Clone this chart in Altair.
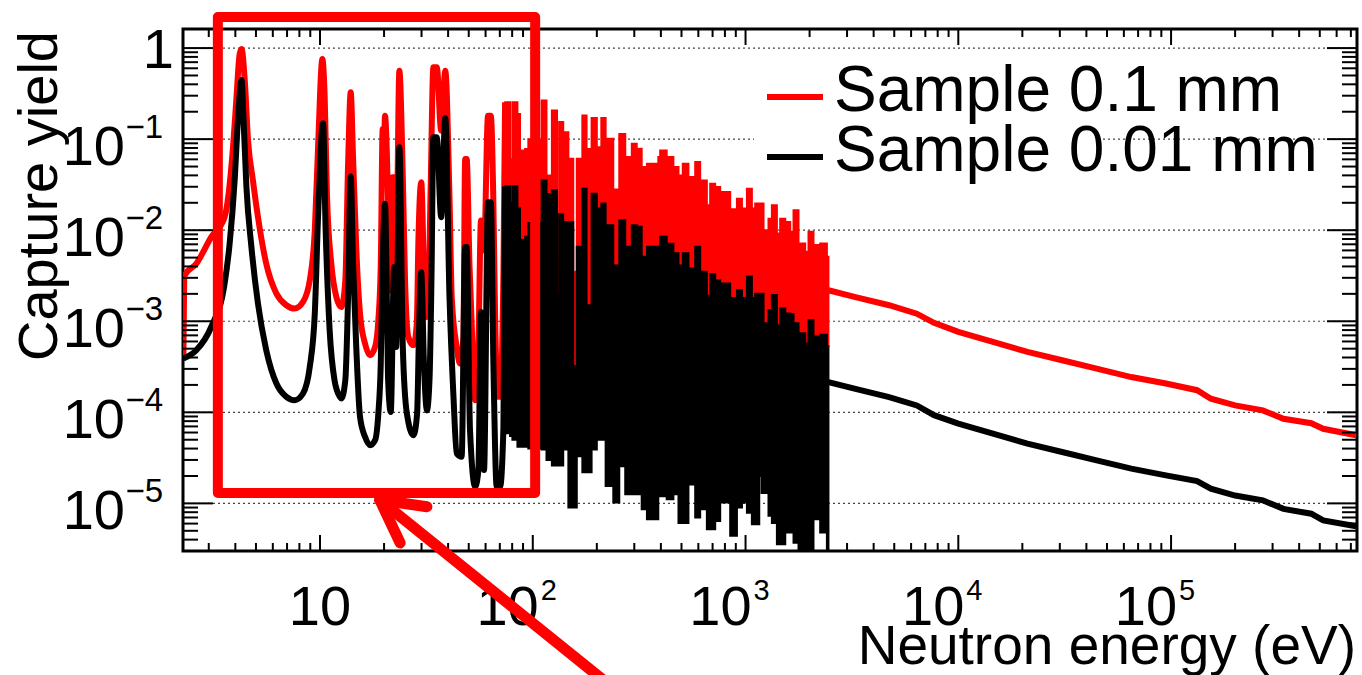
import altair as alt
import pandas as pd

W, H = 1174, 522
FONT = "Liberation Sans"
RED = "#ff0000"
BLACK = "#000000"

# ---------------- data ----------------
# isolated resonances, Sample 0.1 mm (red)
red_low_E = [2.28, 2.31, 2.62, 3.08, 3.56, 3.9, 4.05, 4.19, 4.28, 4.43, 4.59, 4.84, 5.11, 5.59, 6.24, 6.95,
             7.6, 8.32, 8.95, 9.45, 9.79, 10.26, 10.52, 10.79, 11.3, 11.93, 12.6, 13.15, 13.55, 13.94, 14.3,
             14.8, 15.42, 16.28, 17.18, 18.15, 18.8, 19.3, 19.7, 19.95, 20.2, 20.9, 21.3, 21.9, 22.3, 22.8,
             23.6, 24.5, 25.1, 26.0, 27.5, 28.5, 29.0, 29.9, 30.8, 31.5, 32.3, 33.1, 34.1, 35.4, 37.1, 38.8,
             40.6, 41.6, 43.9, 45.5, 47.2, 48.1, 48.9, 50.4, 52.6, 53.6, 55.5, 57.1, 59.0, 61.6, 63.5, 65.3,
             66.5, 68.5, 70.2, 72.8, 74.1]
red_low_Y = [3.9e-4, 3.19e-3, 4.28e-3, 8.4e-3, 0.0139, 0.0814, 0.288, 0.86, 0.975, 0.438, 0.0964, 0.0351,
             0.0139, 4.28e-3, 2.01e-3, 1.5e-3, 1.38e-3, 1.63e-3, 2.81e-3, 9.93e-3, 0.0814, 0.757, 0.288,
             0.0231, 4.28e-3, 1.85e-3, 1.43e-3, 2.81e-3, 0.0535, 0.327, 0.0633, 6.52e-3, 1.21e-3, 5.68e-4,
             4.23e-4, 5.22e-4, 1.02e-3, 4.28e-3, 0.129, 0.06, 0.181, 0.0195, 2.18e-3, 0.0382, 0.0382, 4.28e-3,
             0.564, 0.0382, 2.81e-3, 6.72e-4, 5.45e-4, 9.41e-4, 7.7e-3, 0.0337, 3.61e-3, 1.11e-3, 1.85e-3,
             0.0273, 0.614, 0.614, 0.124, 0.564, 0.0231, 1.85e-3, 5.2e-4, 3.43e-4, 6.7e-4, 0.0607, 0.0607,
             4.28e-3, 2.9e-4, 1.36e-4, 5.2e-4, 0.0128, 6.0e-3, 0.181, 0.181, 0.0195, 1.21e-3, 1.48e-4,
             1.48e-4, 3.61e-3, 0.254]

# isolated resonances, Sample 0.01 mm (black)
black_low_E = [2.28, 2.62, 3.08, 3.56, 3.76, 3.97, 4.12, 4.28, 4.36, 4.51, 4.76, 5.11, 5.59, 6.24, 6.95, 7.6,
               8.32, 8.95, 9.45, 9.79, 10.33, 10.63, 11.1, 11.7, 12.4, 12.6, 13.15, 13.55, 13.94, 14.3, 14.8,
               15.42, 16.28, 17.18, 18.15, 18.8, 19.3, 19.7, 20.2, 20.7, 20.9, 21.5, 22.3, 22.8, 23.1, 23.6,
               24.5, 25.6, 27.5, 28.6, 29.2, 29.9, 30.8, 31.8, 32.7, 33.4, 34.1, 35.4, 37.1, 38.8, 40.6, 42.4,
               43.9, 46.3, 48.1, 48.9, 50.7, 53.6, 55.5, 57.1, 59.0, 61.6, 63.5, 65.3, 67.7, 70.2, 72.8, 74.1]
black_low_Y = [3.89e-4, 4.8e-4, 8.65e-4, 2.58e-3, 7.1e-3, 0.0351, 0.174, 0.446, 0.189, 0.0297, 6.52e-3,
               1.56e-3, 4.8e-4, 2.07e-4, 1.48e-4, 1.36e-4, 1.61e-4, 3.15e-4, 1.21e-3, 0.0139, 0.149, 9.93e-3,
               7.96e-4, 2.25e-4, 1.48e-4, 1.42e-4, 2.25e-4, 1.85e-3, 0.0388, 4.28e-3, 5.22e-4, 8.9e-5,
               5.38e-5, 4.36e-5, 4.95e-5, 9.7e-5, 3.43e-4, 4.28e-3, 0.0195, 9.41e-4, 2.25e-4, 1.01e-4,
               3.94e-3, 5.22e-4, 2.81e-3, 0.0814, 5.22e-4, 9.7e-5, 5.61e-5, 9.7e-5, 7.96e-4, 3.47e-3, 3.43e-4,
               1.05e-4, 2.25e-4, 2.81e-3, 0.105, 0.105, 0.0139, 0.171, 1.85e-3, 1.48e-4, 3.53e-5, 3.25e-5,
               6.52e-3, 6.52e-3, 6.37e-5, 1.52e-5, 2.32e-5, 1.26e-3, 2.32e-5, 0.0203, 0.0203, 3.43e-4,
               1.52e-5, 1.52e-5, 6.93e-5, 0.0303]

# dense resonance region: envelope per bin (bin start energies)
dense_E = [74.2, 78.2, 80.2, 84.7, 87.1, 92.0, 95.3, 110, 116, 123, 130, 133, 139, 147, 155, 161, 171, 179,
           189, 200, 210, 220, 239, 255, 272, 292, 308, 325, 344, 369, 389, 397, 426, 458, 484, 507, 539, 580,
           612, 658, 682, 720, 760, 847, 911, 962, 1015, 1071, 1110, 1160, 1190, 1215, 1282, 1330, 1404, 1455,
           1537, 1622, 1681, 1774, 1907, 1977, 2086, 2243, 2412, 2453]
dense_red_top = [0.254, 0.06, 0.254, 0.189, 0.0752, 0.078, 0.10, 0.265, 0.04, 0.206, 0.0045, 0.154, 0.119,
                 0.061, 0.0035, 0.061, 0.182, 0.078, 0.171, 0.0817, 0.171, 0.101, 0.028, 0.114, 0.0635, 0.089,
                 0.0783, 0.0494, 0.0537, 0.0537, 0.0635, 0.0752, 0.0635, 0.0494, 0.040, 0.0537, 0.0384, 0.056,
                 0.0352, 0.0188, 0.0324, 0.0298, 0.0263, 0.017, 0.0222, 0.0173, 0.0286, 0.0173, 0.0196, 0.0196,
                 0.0196, 0.0100, 0.0134, 0.0188, 0.0092, 0.0134, 0.0123, 0.0096, 0.0166, 0.00715, 0.00579,
                 0.0096, 0.00686, 0.00715, 0.0051, 0.0051]
dense_black_top = [0.0303, 0.02, 0.0303, 0.0173, 0.0078, 0.0085, 0.012, 0.0352, 0.025, 0.0274, 0.002, 0.015,
                   0.0123, 0.0123, 0.00032, 0.0066, 0.0286, 0.0015, 0.0252, 0.0173, 0.0196, 0.0113, 0.0041,
                   0.0129, 0.0066, 0.0113, 0.0109, 0.0051, 0.0066, 0.0066, 0.0051, 0.0085, 0.0071, 0.0056,
                   0.0041, 0.0056, 0.0038, 0.0066, 0.0035, 0.0019, 0.0033, 0.0028, 0.0026, 0.0018, 0.0022,
                   0.0018, 0.0031, 0.0018, 0.0020, 0.0020, 0.0020, 0.00095, 0.00133, 0.00194, 0.0009, 0.00139,
                   0.00122, 0.0012, 0.00095, 0.00074, 0.00057, 0.00103, 0.00068, 0.00071, 0.00053, 0.00053]
dense_black_bottom = [5.9e-5, 5.5e-5, 5.0e-5, 4.2e-5, 4.2e-5, 4.2e-5, 4.0e-5, 3.9e-5, 3.0e-5, 2.6e-5, 2.6e-5,
                      2.6e-5, 3.9e-5, 9.0e-6, 9.0e-6, 3.3e-5, 2.2e-5, 2.2e-5, 3.9e-5, 5.0e-5, 5.0e-5, 1.55e-5,
                      1.02e-5, 2.56e-5, 1.26e-5, 1.26e-5, 1.26e-5, 8.6e-6, 6.7e-6, 6.7e-6, 1.26e-5, 1.2e-5,
                      1.11e-5, 1.26e-5, 6.1e-6, 6.1e-6, 1.61e-5, 7.0e-6, 8.6e-6, 5.2e-6, 5.2e-6, 6.4e-6,
                      1.02e-5, 4.4e-6, 9.0e-6, 1.02e-5, 7.9e-6, 5.9e-6, 5.9e-6, 2.0e-5, 1.3e-5, 1.3e-5, 7.3e-6,
                      6.1e-6, 3.56e-6, 3.56e-6, 4.8e-6, 4.8e-6, 3.7e-6, 2.5e-6, 2.5e-6, 2.5e-6, 6.7e-6, 4.8e-6,
                      2.5e-6, 2.5e-6]

# smooth high-energy part
high_E = [2453, 3250, 4730, 6380, 7690, 10000, 14550, 21130, 30760, 44700, 65000, 94600, 132500, 153800,
          200000, 269900, 337500, 455700, 518800, 741300]
high_red = [2.19e-3, 1.85e-3, 1.50e-3, 1.21e-3, 9.6e-4, 7.64e-4, 5.93e-4, 4.61e-4, 3.73e-4, 3.02e-4, 2.44e-4,
            2.07e-4, 1.75e-4, 1.41e-4, 1.19e-4, 1.05e-4, 8.5e-5, 7.6e-5, 6.6e-5, 5.6e-5]
high_black = [2.15e-4, 1.82e-4, 1.47e-4, 1.19e-4, 9.3e-5, 7.5e-5, 5.83e-5, 4.53e-5, 3.67e-5, 2.97e-5, 2.41e-5,
              2.03e-5, 1.76e-5, 1.45e-5, 1.22e-5, 1.08e-5, 8.7e-6, 7.7e-6, 6.5e-6, 5.6e-6]

series_names = ["Sample 0.1 mm", "Sample 0.01 mm"]
series_colors = [RED, BLACK]

# axis ticks and labels
x_label_vals = [10, 100, 1000, 10000, 100000]
x_label_exp = ["", "2", "3", "4", "5"]
y_label_vals = [1, 0.1, 0.01, 0.001, 0.0001, 0.00001]
y_label_exp = ["", "\u22121", "\u22122", "\u22123", "\u22124", "\u22125"]

X_DOMAIN = [2.27, 7.48e5]
Y_DOMAIN = [3.0e-6, 1.62]

# annotation (box around the low-energy resonances and an arrow), in data units
box_x = [3.31, 102.6]
box_y = [2.19, 1.30e-5]
arrow_x = [19.1, 19.1, 19.1]
arrow_y = [1.09e-5, 1.09e-5, 1.09e-5]
arrow_x2 = [244, 23.8, 31.8]
arrow_y2 = [9.0e-8, 3.68e-6, 9.2e-6]

# ---------------- build ----------------
xs = alt.Scale(type="log", domain=X_DOMAIN, nice=False)
ys = alt.Scale(type="log", domain=Y_DOMAIN, nice=False)

def X(f):
    return alt.X(f, type="quantitative", scale=xs, axis=None)

def Y(f):
    return alt.Y(f, type="quantitative", scale=ys, axis=None)

x_major = x_label_vals
x_minor = [m * 10 ** k for k in range(0, 6) for m in range(2, 10)
           if X_DOMAIN[0] <= m * 10 ** k <= X_DOMAIN[1]]
y_major = y_label_vals
y_minor = [m * 10.0 ** k for k in range(-6, 1) for m in range(2, 10)
           if Y_DOMAIN[0] <= m * 10.0 ** k <= Y_DOMAIN[1]]

df_xmaj = pd.DataFrame({"v": x_major})
df_xmin = pd.DataFrame({"v": x_minor})
df_ymaj = pd.DataFrame({"v": y_major})
df_ymin = pd.DataFrame({"v": y_minor})

grid = alt.Chart(df_ymaj).mark_rule(color="#444444", strokeWidth=1.2, strokeDash=[2, 3]).encode(
    y=Y("v"), x=alt.value(0), x2=alt.value(W))

legend_bg = alt.Chart(pd.DataFrame({"a": [0]})).mark_rect(color="white").encode(
    x=alt.value(571), x2=alt.value(913), y=alt.value(26), y2=alt.value(156))

df_rl = pd.DataFrame({"E": red_low_E, "Y": red_low_Y})
df_bl = pd.DataFrame({"E": black_low_E, "Y": black_low_Y})
df_d = pd.DataFrame({"E": dense_E, "rt": dense_red_top, "bt": dense_black_top, "bb": dense_black_bottom})
df_h = pd.DataFrame({"E": high_E, "r": high_red, "b": high_black})

LW = 6
red_low = alt.Chart(df_rl).mark_line(color=RED, strokeWidth=LW, clip=True, strokeJoin="round",
                                     interpolate="monotone").encode(x=X("E"), y=Y("Y"))
red_high = alt.Chart(df_h).mark_line(color=RED, strokeWidth=LW, clip=True).encode(x=X("E"), y=Y("r"))
red_band = alt.Chart(df_d).mark_area(color=RED, stroke=RED, strokeWidth=2, interpolate="step-after",
                                     clip=True).encode(x=X("E"), y=Y("rt"), y2=alt.Y2("bt"))
black_band = alt.Chart(df_d).mark_area(color=BLACK, stroke=BLACK, strokeWidth=2, interpolate="step-after",
                                       clip=True).encode(x=X("E"), y=Y("bt"), y2=alt.Y2("bb"))
black_low = alt.Chart(df_bl).mark_line(color=BLACK, strokeWidth=LW, clip=True, strokeJoin="round",
                                       interpolate="monotone").encode(x=X("E"), y=Y("Y"))
black_high = alt.Chart(df_h).mark_line(color=BLACK, strokeWidth=LW, clip=True).encode(x=X("E"), y=Y("b"))

TW = 2
ticks = [
    alt.Chart(df_ymaj).mark_rule(color="black", strokeWidth=TW).encode(y=Y("v"), x=alt.value(0), x2=alt.value(30)),
    alt.Chart(df_ymin).mark_rule(color="black", strokeWidth=TW).encode(y=Y("v"), x=alt.value(0), x2=alt.value(15)),
    alt.Chart(df_ymaj).mark_rule(color="black", strokeWidth=TW).encode(y=Y("v"), x=alt.value(W - 30), x2=alt.value(W)),
    alt.Chart(df_ymin).mark_rule(color="black", strokeWidth=TW).encode(y=Y("v"), x=alt.value(W - 15), x2=alt.value(W)),
    alt.Chart(df_xmaj).mark_rule(color="black", strokeWidth=TW).encode(x=X("v"), y=alt.value(H), y2=alt.value(H - 16)),
    alt.Chart(df_xmin).mark_rule(color="black", strokeWidth=TW).encode(x=X("v"), y=alt.value(H), y2=alt.value(H - 8)),
    alt.Chart(df_xmaj).mark_rule(color="black", strokeWidth=TW).encode(x=X("v"), y=alt.value(0), y2=alt.value(16)),
    alt.Chart(df_xmin).mark_rule(color="black", strokeWidth=TW).encode(x=X("v"), y=alt.value(0), y2=alt.value(8)),
]

df_xl = pd.DataFrame({"v": x_label_vals, "base": ["10"] * len(x_label_vals), "exp": x_label_exp})
df_yl = pd.DataFrame({"v": y_label_vals, "base": ["1" if e == "" else "10" for e in y_label_exp],
                      "exp": y_label_exp})

XFONT = "Liberation Sans Narrow, Liberation Sans, Arial"
xl_plain = alt.Chart(df_xl).transform_filter("datum.exp == ''").mark_text(
    font=XFONT, fontSize=56, align="center", baseline="alphabetic").encode(
    x=X("v"), y=alt.value(H + 74), text="base:N")
xl_base = alt.Chart(df_xl).transform_filter("datum.exp != ''").mark_text(
    font=XFONT, fontSize=56, align="right", baseline="alphabetic", dx=6).encode(
    x=X("v"), y=alt.value(H + 74), text="base:N")
xl_exp = alt.Chart(df_xl).transform_filter("datum.exp != ''").mark_text(
    font=XFONT, fontSize=29, align="left", baseline="alphabetic", dx=8).encode(
    x=X("v"), y=alt.value(H + 49), text="exp:N")

yl_plain = alt.Chart(df_yl).transform_filter("datum.exp == ''").mark_text(
    font=FONT, fontSize=56, align="right", baseline="alphabetic", dy=20).encode(
    y=Y("v"), x=alt.value(-9), text="base:N")
yl_base = alt.Chart(df_yl).transform_filter("datum.exp != ''").mark_text(
    font=FONT, fontSize=56, align="right", baseline="alphabetic", dy=26).encode(
    y=Y("v"), x=alt.value(-58), text="base:N")
yl_exp = alt.Chart(df_yl).transform_filter("datum.exp != ''").mark_text(
    font=FONT, fontSize=33, align="right", baseline="alphabetic", dy=-1).encode(
    y=Y("v"), x=alt.value(-20), text="exp:N")

one = pd.DataFrame({"t": ["Capture yield"]})
ytitle = alt.Chart(one).mark_text(font=FONT, fontSize=56, angle=270, align="center",
                                  baseline="alphabetic").encode(
    x=alt.value(-126), y=alt.value(167), text="t:N")
xt = pd.DataFrame({"t": ["Neutron energy (eV)"]})
xtitle = alt.Chart(xt).mark_text(font=FONT, fontSize=55, align="right", baseline="alphabetic").encode(
    x=alt.value(W - 1), y=alt.value(635), text="t:N")

df_leg = pd.DataFrame({"name": series_names, "color": series_colors})
leg_layers = []
for i, (nm, col) in enumerate(zip(series_names, series_colors)):
    d = df_leg.iloc[[i]]
    ly = 68 + 60 * i
    leg_layers.append(alt.Chart(d).mark_rule(color=col, strokeWidth=LW).encode(
        x=alt.value(584), x2=alt.value(640), y=alt.value(ly)))
    leg_layers.append(alt.Chart(d).mark_text(font=FONT, fontSize=64, align="left",
                                             baseline="alphabetic").encode(
        x=alt.value(651), y=alt.value(ly + 14), text="name:N"))

df_box = pd.DataFrame({"x": [box_x[0]], "x2": [box_x[1]], "y": [box_y[0]], "y2": [box_y[1]]})
box = alt.Chart(df_box).mark_rect(fillOpacity=0, stroke=RED, strokeWidth=10, strokeJoin="round",
                                  clip=False).encode(
    x=X("x"), x2="x2", y=Y("y"), y2="y2")
df_arrow = pd.DataFrame({"x": arrow_x, "y": arrow_y, "x2": arrow_x2, "y2": arrow_y2})
arrow = alt.Chart(df_arrow).mark_rule(color=RED, strokeWidth=11, strokeCap="round", clip=False).encode(
    x=X("x"), x2="x2", y=Y("y"), y2="y2")

chart = alt.layer(
    grid, legend_bg, red_low, red_high, red_band, black_band, black_low, black_high,
    *ticks, xl_plain, xl_base, xl_exp, yl_plain, yl_base, yl_exp, ytitle, xtitle,
    *leg_layers, box, arrow
).properties(
    width=W, height=H,
    padding={"left": 183, "top": 29, "right": 5, "bottom": 124},
    autosize=alt.AutoSizeParams(type="none"),
    background="white",
).configure_view(stroke="black", strokeWidth=3)

chart.save("out.html", embed_options={"renderer": "svg", "actions": False})
